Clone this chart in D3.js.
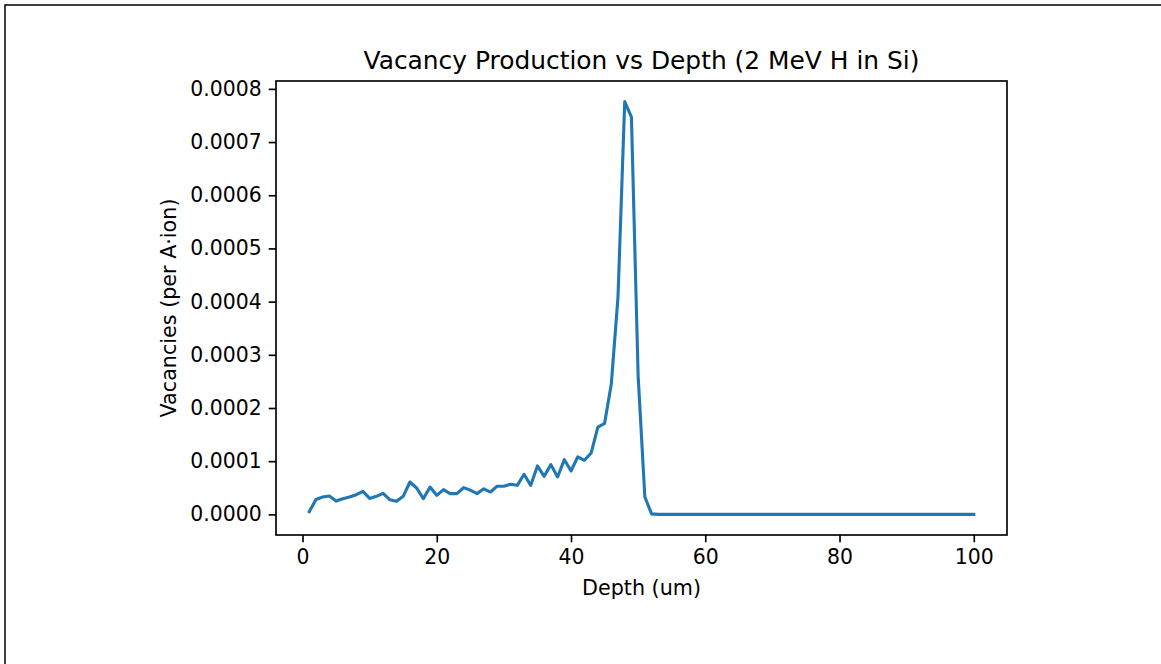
<!DOCTYPE html>
<html>
<head>
<meta charset="utf-8">
<script src="https://cdn.jsdelivr.net/npm/d3@7"></script>
<style>
html,body{margin:0;padding:0;background:#fff;}
svg{display:block;}
text{font-family:"DejaVu Sans",sans-serif;fill:#000;}
</style>
</head>
<body>
<svg id="chart" width="1161" height="664"></svg>
<script>
const depth = d3.range(1, 101);
const vacanciesHead = [
  0.000005, 0.000028, 0.0000326, 0.0000345, 0.000025, 0.0000295, 0.0000326, 0.000037, 0.0000433, 0.00003,
  0.0000339, 0.0000395, 0.0000276, 0.0000245, 0.0000339, 0.0000608, 0.0000496, 0.0000295, 0.0000514, 0.0000358,
  0.0000464, 0.000039, 0.000039, 0.0000502, 0.0000455, 0.000039, 0.000048, 0.000042, 0.000053, 0.000053,
  0.0000565, 0.0000546, 0.0000753, 0.0000546, 0.000091, 0.0000715, 0.0000935, 0.0000703, 0.000103, 0.0000816,
  0.000108, 0.0001017, 0.0001155, 0.000164, 0.000171, 0.000245, 0.000409, 0.000776, 0.000747, 0.00026,
  0.0000326, 0.000001
];
const vacanciesTail = new Array(48).fill(0);
const vacancies = vacanciesHead.concat(vacanciesTail);
const xTicks = [0, 20, 40, 60, 80, 100];
const yTicks = [0, 0.0001, 0.0002, 0.0003, 0.0004, 0.0005, 0.0006, 0.0007, 0.0008];

const svg = d3.select("#chart");
// figure border (top & left visible)
svg.append("rect").attr("x", 5).attr("y", 5).attr("width", 1200).attr("height", 700)
  .attr("fill", "none").attr("stroke", "#000").attr("stroke-width", 1.5);

const L = 276, R = 1007, T = 81, B = 535;
const xmin = d3.min(depth), xmax = d3.max(depth);
const xm = (xmax - xmin) * 0.05;
const ymax = d3.max(vacancies), ymin = d3.min(vacancies);
const ym = (ymax - ymin) * 0.05;
const x = d3.scaleLinear().domain([xmin - xm, xmax + xm]).range([L, R]);
const y = d3.scaleLinear().domain([ymin - ym, ymax + ym]).range([B, T]);

const line = d3.line().x((d, i) => x(depth[i])).y(d => y(d));
svg.append("path").datum(vacancies).attr("d", line)
  .attr("fill", "none").attr("stroke", "#1f77b4").attr("stroke-width", 3.1)
  .attr("stroke-linejoin", "round").attr("stroke-linecap", "square");

const xAxis = d3.axisBottom(x).tickValues(xTicks).tickSize(7.3).tickPadding(7).tickFormat(d3.format("d"));
const gx = svg.append("g").attr("transform", `translate(0,${B})`).call(xAxis);
const yAxis = d3.axisLeft(y).tickValues(yTicks).tickSize(7.3).tickPadding(7).tickFormat(d3.format(".4f"));
const gy = svg.append("g").attr("transform", `translate(${L},0)`).call(yAxis);
[gx, gy].forEach(g => {
  g.select(".domain").remove();
  g.selectAll(".tick line").attr("stroke", "#000").attr("stroke-width", 1.65);
  g.selectAll(".tick text").attr("font-size", 20.4).attr("font-family", "DejaVu Sans").attr("fill", "#000");
});

svg.append("rect").attr("x", L).attr("y", T).attr("width", R - L).attr("height", B - T)
  .attr("fill", "none").attr("stroke", "#000").attr("stroke-width", 1.65);

svg.append("text").attr("x", (L + R) / 2).attr("y", 69).attr("text-anchor", "middle")
  .attr("font-size", 24.9).text("Vacancy Production vs Depth (2 MeV H in Si)");
svg.append("text").attr("x", (L + R) / 2).attr("y", 595).attr("text-anchor", "middle")
  .attr("font-size", 20.7).text("Depth (um)");
svg.append("text").attr("transform", `translate(176,${(T + B) / 2}) rotate(-90)`).attr("text-anchor", "middle")
  .attr("font-size", 20.7).text("Vacancies (per A·ion)");
</script>
</body>
</html>
